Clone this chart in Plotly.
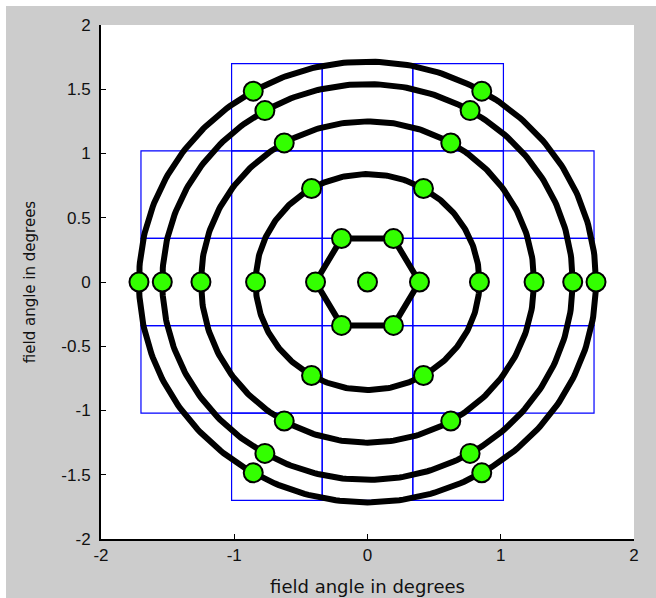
import numpy as np
import plotly.graph_objects as go

# ---- data ----
ring_radii = [0.39, 0.84, 1.25, 1.54, 1.715]      # field-angle radius of each ring (deg)
ring_point_angles = [0, 60, 120, 180, 240, 300]   # angular positions of sample points (deg)
ring_is_hexagon = [True, False, False, False, False]
center_point = (0.0, 0.0)

chip_edges = [-1.70, -1.02, -0.34, 0.34, 1.02, 1.70]   # raft boundaries (deg)
chip_rows_present = [                                 # 5x5 raft layout, corners missing
    [0, 1, 1, 1, 0],
    [1, 1, 1, 1, 1],
    [1, 1, 1, 1, 1],
    [1, 1, 1, 1, 1],
    [0, 1, 1, 1, 0],
]

x_tick_vals = [-2, -1, 0, 1, 2]
x_tick_text = ["-2", "-1", "0", "1", "2"]
y_tick_vals = [-2, -1.5, -1, -0.5, 0, 0.5, 1, 1.5, 2]
y_tick_text = ["-2", "-1.5", "-1", "-0.5", "0", "0.5", "1", "1.5", "2"]
axis_title = "field angle in degrees"

# ---- figure ----
fig = go.Figure()

# rings
for r, hexa in zip(ring_radii, ring_is_hexagon):
    if hexa:
        th = np.deg2rad(np.array(ring_point_angles + [ring_point_angles[0]], dtype=float))
    else:
        th = np.linspace(0, 2 * np.pi, 361)
    fig.add_trace(go.Scatter(x=r * np.cos(th), y=r * np.sin(th), mode="lines",
                             line=dict(color="black", width=6),
                             hoverinfo="skip", showlegend=False))

# sample points
px = [center_point[0]]
py = [center_point[1]]
for r in ring_radii:
    for a in ring_point_angles:
        px.append(r * np.cos(np.deg2rad(a)))
        py.append(r * np.sin(np.deg2rad(a)))
fig.add_trace(go.Scatter(x=px, y=py, mode="markers",
                         marker=dict(symbol="circle", size=19, color="#33ff00",
                                     line=dict(color="black", width=2)),
                         showlegend=False))

# raft rectangles
shapes = []
for i, row in enumerate(chip_rows_present):
    for j, present in enumerate(row):
        if not present:
            continue
        y1 = chip_edges[len(chip_edges) - 1 - i]
        y0 = chip_edges[len(chip_edges) - 2 - i]
        x0 = chip_edges[j]
        x1 = chip_edges[j + 1]
        shapes.append(dict(type="rect", xref="x", yref="y", x0=x0, x1=x1, y0=y0, y1=y1,
                           line=dict(color="#0000ff", width=1.2), layer="below"))

# white strips at left/top figure edges
W, H = 656, 598
L, R, T, B = 101, 22, 25, 59
pw, ph = W - L - R, H - T - B
def px2x(p): return (p - L) / pw
def py2y(p): return (H - B - p) / ph
shapes.append(dict(type="rect", xref="paper", yref="paper",
                   x0=px2x(0), x1=px2x(6), y0=py2y(H), y1=py2y(0),
                   fillcolor="white", line=dict(width=0), layer="below"))
shapes.append(dict(type="rect", xref="paper", yref="paper",
                   x0=px2x(0), x1=px2x(W), y0=py2y(6), y1=py2y(0),
                   fillcolor="white", line=dict(width=0), layer="below"))

tick_font = dict(family="Liberation Sans, Arial, sans-serif", size=17, color="#111111")

fig.update_layout(
    width=W, height=H,
    margin=dict(l=L, r=R, t=T, b=B, pad=0),
    paper_bgcolor="#cccccc",
    plot_bgcolor="white",
    shapes=shapes,
    showlegend=False,
    xaxis=dict(range=[-2, 2], tickvals=x_tick_vals, ticktext=x_tick_text,
               ticks="inside", ticklen=5, tickwidth=1, tickcolor="black",
               showline=True, linecolor="black", linewidth=2,
               showgrid=False, zeroline=False, automargin=False,
               tickfont=tick_font,
               title=dict(text=axis_title, standoff=16,
                          font=dict(family="DejaVu Sans, sans-serif", size=18, color="#111111"))),
    yaxis=dict(range=[-2, 2], tickvals=y_tick_vals, ticktext=y_tick_text,
               ticks="inside", ticklen=5, tickwidth=1, tickcolor="black",
               showline=True, linecolor="black", linewidth=2,
               showgrid=False, zeroline=False, automargin=False,
               tickfont=tick_font, ticklabelstandoff=5,
               title=dict(text=axis_title, standoff=22,
                          font=dict(family="DejaVu Sans, sans-serif", size=15, color="#111111"))),
)

fig.write_html("out.html")
